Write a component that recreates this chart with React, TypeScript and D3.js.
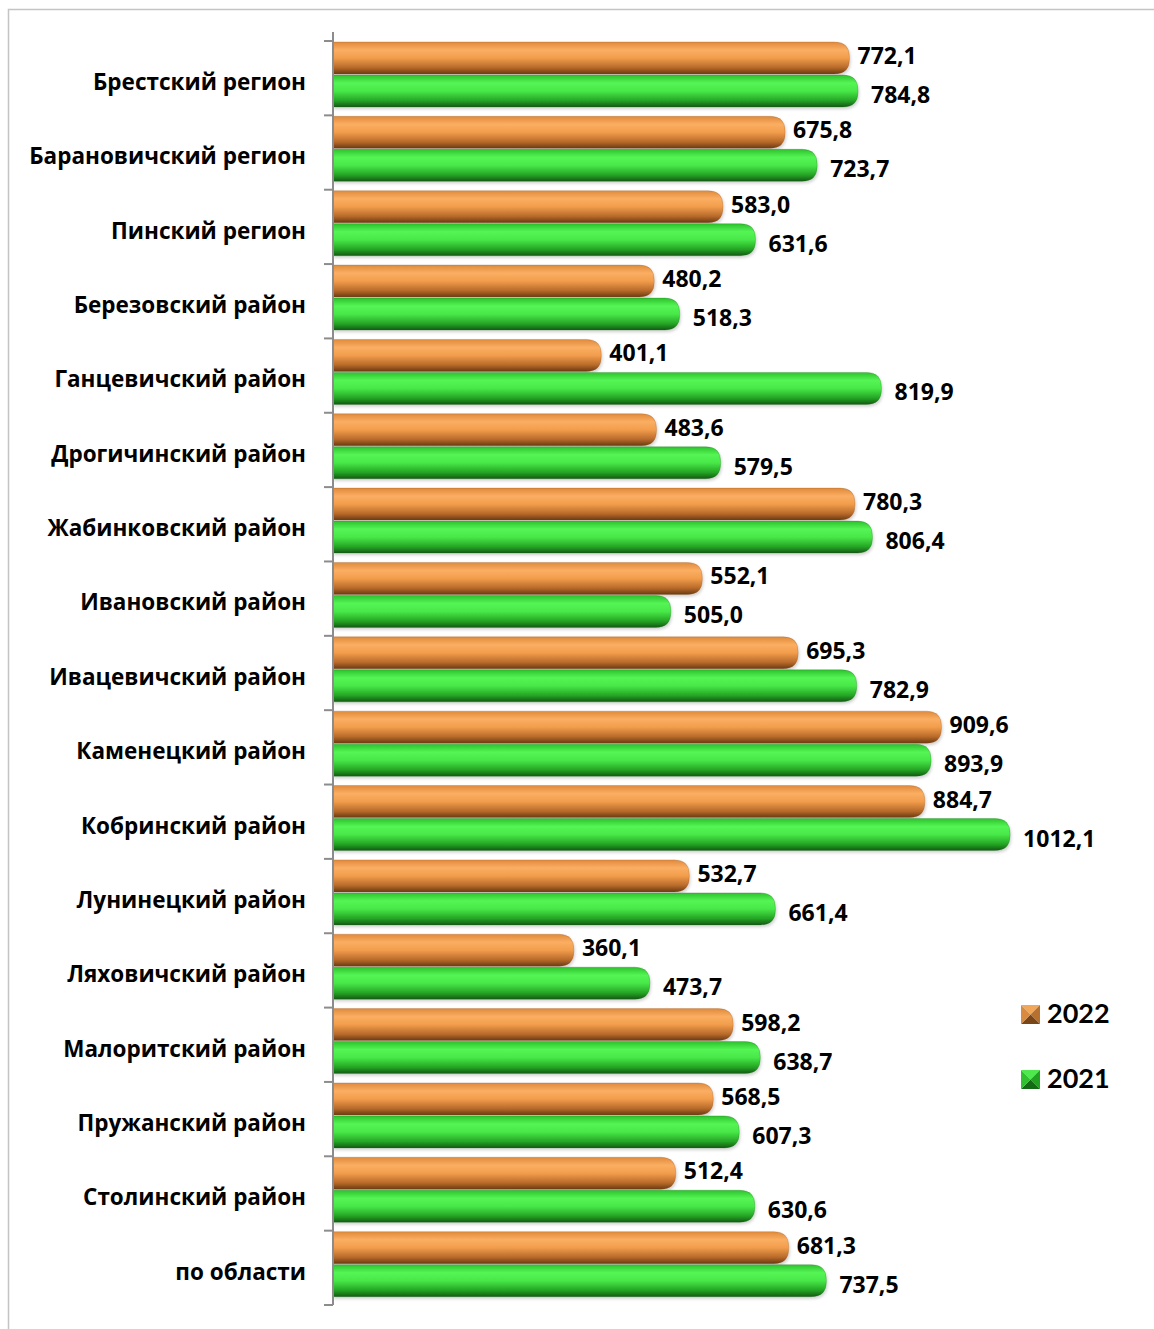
import React from 'react';
import * as d3 from 'd3';

const categories = [
  'Брестский регион',
  'Барановичский регион',
  'Пинский регион',
  'Березовский район',
  'Ганцевичский район',
  'Дрогичинский район',
  'Жабинковский район',
  'Ивановский район',
  'Ивацевичский район',
  'Каменецкий район',
  'Кобринский район',
  'Лунинецкий район',
  'Ляховичский район',
  'Малоритский район',
  'Пружанский район',
  'Столинский район',
  'по области',
];

const values2022 = [772.1, 675.8, 583.0, 480.2, 401.1, 483.6, 780.3, 552.1, 695.3, 909.6, 884.7, 532.7, 360.1, 598.2, 568.5, 512.4, 681.3];
const values2021 = [784.8, 723.7, 631.6, 518.3, 819.9, 579.5, 806.4, 505.0, 782.9, 893.9, 1012.1, 661.4, 473.7, 638.7, 607.3, 630.6, 737.5];

const seriesNames = ['2022', '2021'];

const W = 1154;
const H = 1329;
const axisX = 333;
const plotTop = 41;
const plotBottom = 1305;
const barH = 32;

const fmt = (v: number) => v.toFixed(1).replace('.', ',');

// rectangle with rounded right end
const barPath = (x0: number, x1: number, y: number, h: number) => {
  const r = Math.min(h / 2 - 1, Math.max(0, x1 - x0));
  return `M${x0},${y} L${x1 - r},${y} Q${x1},${y} ${x1},${y + r} L${x1},${y + h - r} Q${x1},${y + h} ${x1 - r},${y + h} L${x0},${y + h} Z`;
};

const App: React.FC = () => {
  const x = d3.scaleLinear().domain([0, 1200]).range([axisX, axisX + 0.669 * 1200]);
  const y = d3.scaleBand<string>().domain(categories).range([plotTop, plotBottom]).padding(0);
  const bw = y.bandwidth();

  const font = "'Open Sans', Lato, Calibri, sans-serif";

  const legendMarker = (x0: number, y0: number, s: number, c: string[]) => {
    const cx = x0 + s / 2, cy = y0 + s / 2;
    return (
      <g>
        <polygon points={`${x0},${y0} ${x0 + s},${y0} ${cx},${cy}`} fill={c[0]} />
        <polygon points={`${x0 + s},${y0} ${x0 + s},${y0 + s} ${cx},${cy}`} fill={c[1]} />
        <polygon points={`${x0},${y0 + s} ${x0 + s},${y0 + s} ${cx},${cy}`} fill={c[2]} />
        <polygon points={`${x0},${y0} ${x0},${y0 + s} ${cx},${cy}`} fill={c[3]} />
      </g>
    );
  };

  return (
    <svg width={W} height={H} style={{ position: 'absolute', left: 0, top: 0, display: 'block' }} fontFamily={font}>
      <defs>
        <linearGradient id="grad-orange" x1="0" y1="0" x2="0" y2="1">
          <stop offset="0%" stopColor="#e08a3c" />
          <stop offset="25%" stopColor="#fbae62" />
          <stop offset="50%" stopColor="#f29d4c" />
          <stop offset="80%" stopColor="#b86a2a" />
          <stop offset="100%" stopColor="#6a3a12" />
        </linearGradient>
        <linearGradient id="grad-green" x1="0" y1="0" x2="0" y2="1">
          <stop offset="0%" stopColor="#2cc22c" />
          <stop offset="25%" stopColor="#55f555" />
          <stop offset="50%" stopColor="#48e848" />
          <stop offset="80%" stopColor="#25a525" />
          <stop offset="100%" stopColor="#135a13" />
        </linearGradient>
        <filter id="bar-shadow" x="-5%" y="-20%" width="110%" height="150%">
          <feDropShadow dx="1" dy="2" stdDeviation="1.5" floodColor="#000" floodOpacity="0.18" />
        </filter>
      </defs>

      <rect x={0} y={0} width={W} height={H} fill="#ffffff" />
      {/* outer frame */}
      <rect x={8.5} y={9.5} width={W + 20} height={H + 20} fill="none" stroke="#c4c4c4" strokeWidth={1.5} />

      {/* bars */}
      {categories.map((c, i) => {
        const y0 = (y(c) as number) + 1;
        const e22 = x(values2022[i]);
        const e21 = x(values2021[i]);
        return (
          <g key={c}>
            <path d={barPath(axisX, e22, y0, barH)} fill="url(#grad-orange)" stroke="#8a5a30" strokeOpacity={0.35} strokeWidth={0.8} filter="url(#bar-shadow)" />
            <path d={barPath(axisX, e21, y0 + barH + 1, barH)} fill="url(#grad-green)" stroke="#2a6a2a" strokeOpacity={0.35} strokeWidth={0.8} filter="url(#bar-shadow)" />
            <text x={e22 + 8} y={y0 + barH / 2 + 6} fontSize={23} fontWeight={700} fill="#000">
              {fmt(values2022[i])}
            </text>
            <text x={e21 + 13} y={y0 + barH + 1 + barH / 2 + 12} fontSize={23} fontWeight={700} fill="#000">
              {fmt(values2021[i])}
            </text>
            <text x={306} y={(y(c) as number) + 49} fontSize={22.5} fontWeight={700} textAnchor="end" fill="#000">
              {c}
            </text>
          </g>
        );
      })}

      {/* axis */}
      <line x1={axisX} x2={axisX} y1={plotTop - 9} y2={plotBottom} stroke="#8c8c8c" strokeWidth={2} />
      {d3.range(categories.length + 1).map((k) => {
        const ty = plotTop + k * bw;
        return <line key={k} x1={324} x2={axisX} y1={ty} y2={ty} stroke="#8c8c8c" strokeWidth={2} />;
      })}

      {/* legend */}
      {legendMarker(1021, 1005, 19, ['#f3a658', '#b8702f', '#7a4618', '#d98a3e'])}
      <text x={1047} y={1023} fontSize={27} fontWeight={700} fontFamily="Lato, sans-serif" fill="#000">{seriesNames[0]}</text>
      {legendMarker(1021, 1070, 19, ['#4ee84e', '#22a022', '#146a14', '#30c030'])}
      <text x={1047} y={1088} fontSize={27} fontWeight={700} fontFamily="Lato, sans-serif" fill="#000">{seriesNames[1]}</text>
    </svg>
  );
};

export default App;
